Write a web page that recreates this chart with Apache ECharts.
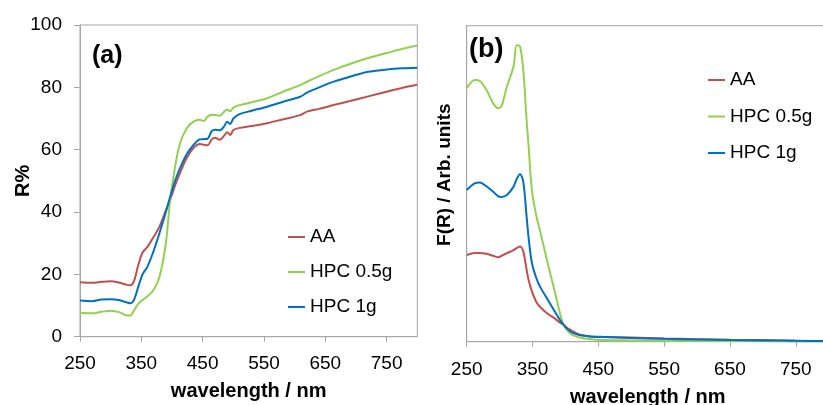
<!DOCTYPE html>
<html>
<head>
<meta charset="utf-8">
<script src="https://cdn.jsdelivr.net/npm/echarts@6/dist/echarts.min.js"></script>
<style>html,body{margin:0;padding:0;background:#fff;}#chart{width:823px;height:405px;}</style>
</head>
<body>
<div id="chart"></div>
<script>
// Panel (a): reflectance R% vs wavelength
var wlA    = [250,270,285,300,315,325,332,338,345,352,360,370,380,390,397,405,413,424,435,445,452,458,465,470,478,485,490,495,500,510,530,555,580,609,620,640,665,690,720,750,775,800];
var aaR    = [17.5,17.3,17.6,17.8,17.3,16.7,16.5,17.8,23,27,28.8,32,35.5,40.5,43.8,48.5,52.5,57.3,60.5,61.8,61.6,61.4,63.3,63.8,63.2,64.5,65.6,64.7,66.3,67,67.6,68.5,69.7,71.1,72.2,73.1,74.4,75.6,77.1,78.6,79.8,80.8];
var hpc05R = [7.7,7.5,8.0,8.3,7.8,6.9,6.8,8.4,10.5,11.8,13,15,19.5,30,43.8,54.5,62,66.9,69,69.6,69.2,70.6,71.2,71.1,70.9,72.2,72.9,72.3,73.5,74.3,75.2,76.5,78.5,80.7,81.8,83.6,85.7,87.5,89.4,91,92.3,93.4];
var hpc1R  = [11.6,11.4,11.9,12.0,11.7,11.1,10.7,11.8,16,20,22.5,27.5,33.5,40,44.9,50,54,58.5,61.5,63.3,63.4,63.5,66,66.4,66.2,67.5,69,68.2,70,71.4,72.5,73.8,75.3,77,78.3,80,81.9,83.4,85,85.7,86.1,86.3];

// Panel (b): Kubelka-Munk F(R), arbitrary units
var wlB    = [250,262,270,280,290,298,303,311,321,326,331,336,341,344,349,356,362,372,382,392,397,402,407,412,417,422,432,442,460,500,550,600,650,700,750,800];
var aaF    = [27.4,28.1,28.1,27.8,27.2,26.7,27.2,28,29,29.6,30.1,28.5,22.8,19.5,16,12.5,10.9,9,7.6,6,5.3,4.5,3.8,3.2,2.6,2.2,1.8,1.6,1.5,1.3,1.0,0.8,0.6,0.5,0.3,0.2];
var hpc05F = [80.2,82.8,82.5,79.7,75.5,73.9,74.6,80.7,87,93.9,93.4,86,70,62,48,39.6,34.6,25.8,17.4,8.8,5.3,3.8,2.7,2,1.6,1.3,0.9,0.7,0.5,0.4,0.3,0.3,0.2,0.2,0.1,0.1];
var hpc1F  = [48,50.1,50.4,49.2,47.5,46,45.8,46.4,49,51.5,53.1,50.6,39.6,33,25,20,17.2,13.7,10.2,6.8,5.5,4.2,3.3,2.7,2.4,2.1,1.8,1.6,1.5,1.2,0.9,0.7,0.5,0.4,0.3,0.2];

var xTicks = [250,350,450,550,650,750];
var seriesNames = ['AA','HPC 0.5g','HPC 1g'];
var colors = ['#C0504D','#92D050','#0070C0'];

function pairs(xs, ys){ return xs.map(function(x,i){ return [x, ys[i]]; }); }

var font = 'Liberation Sans, Arial, sans-serif';
var axisGray = '#A6A6A6';

function xAxisCfg(gridIndex, gap, margin){
  return {
    type:'value', gridIndex:gridIndex, min:250, max:800,
    name:'wavelength / nm', nameLocation:'middle', nameGap:gap, nameMoveOverlap:false,
    nameTextStyle:{fontFamily:font,fontSize:20,fontWeight:'bold',color:'#000'},
    axisLine:{show:true,onZero:false,lineStyle:{color:axisGray,width:1}},
    axisTick:{show:true,inside:false,length:5,customValues:xTicks,lineStyle:{color:axisGray}},
    axisLabel:{show:true,margin:margin,customValues:xTicks,fontFamily:font,fontSize:19,color:'#000'},
    splitLine:{show:false}
  };
}

var chart = echarts.init(document.getElementById('chart'), null, {renderer:'canvas'});
var option = {
  backgroundColor:'#fff',
  animation:false,
  color:colors,
  title:[
    {text:'(a)', left:92, top:44, padding:0, textStyle:{fontFamily:font,fontSize:25,fontWeight:'bold',color:'#000'}},
    {text:'(b)', left:469, top:36, padding:0, textStyle:{fontFamily:font,fontSize:27,fontWeight:'bold',color:'#000'}}
  ],
  legend:[
    {data:seriesNames, orient:'vertical', left:288, top:227.5, padding:0, itemGap:16, itemWidth:17, itemHeight:2, icon:'rect',
     textStyle:{fontFamily:font,fontSize:19,color:'#000'}},
    {data:seriesNames, orient:'vertical', left:708, top:70.5, padding:0, itemGap:17.5, itemWidth:17, itemHeight:2, icon:'rect',
     textStyle:{fontFamily:font,fontSize:19,color:'#000'}}
  ],
  grid:[
    {left:80, top:25, width:337.3, height:311.7, show:true, borderColor:axisGray, borderWidth:1, containLabel:false, outerBoundsMode:'none'},
    {left:466.7, top:25.7, width:362, height:316, show:true, borderColor:axisGray, borderWidth:1, containLabel:false, outerBoundsMode:'none'}
  ],
  xAxis:[ xAxisCfg(0, 45, 18), xAxisCfg(1, 46, 19) ],
  yAxis:[
    {type:'value', gridIndex:0, min:0, max:100, interval:20,
     name:'R%', nameLocation:'middle', nameGap:47, nameMoveOverlap:false,
     nameTextStyle:{fontFamily:font,fontSize:20,fontWeight:'bold',color:'#000'},
     axisLine:{show:true,lineStyle:{color:axisGray}},
     axisTick:{show:true,inside:false,length:6,lineStyle:{color:axisGray}},
     axisLabel:{margin:18,fontFamily:font,fontSize:19,color:'#000'},
     splitLine:{show:false}},
    {type:'value', gridIndex:1, min:0, max:100,
     name:'F(R) / Arb. units', nameLocation:'middle', nameGap:12, nameMoveOverlap:false,
     nameTextStyle:{fontFamily:font,fontSize:19,fontWeight:'bold',color:'#000',padding:[0,0,0,18]},
     axisLine:{show:true,lineStyle:{color:axisGray}},
     axisTick:{show:false}, axisLabel:{show:false}, splitLine:{show:false}}
  ],
  series:[
    {name:'AA', type:'line', xAxisIndex:0, yAxisIndex:0, data:pairs(wlA,aaR), showSymbol:false, symbol:'none', smooth:0.3, lineStyle:{width:2,color:colors[0]}, itemStyle:{color:colors[0]}},
    {name:'HPC 0.5g', type:'line', xAxisIndex:0, yAxisIndex:0, data:pairs(wlA,hpc05R), showSymbol:false, symbol:'none', smooth:0.3, lineStyle:{width:2,color:colors[1]}, itemStyle:{color:colors[1]}},
    {name:'HPC 1g', type:'line', xAxisIndex:0, yAxisIndex:0, data:pairs(wlA,hpc1R), showSymbol:false, symbol:'none', smooth:0.3, lineStyle:{width:2,color:colors[2]}, itemStyle:{color:colors[2]}},
    {name:'AA', type:'line', xAxisIndex:1, yAxisIndex:1, data:pairs(wlB,aaF), showSymbol:false, symbol:'none', smooth:0.3, lineStyle:{width:2,color:colors[0]}, itemStyle:{color:colors[0]}},
    {name:'HPC 0.5g', type:'line', xAxisIndex:1, yAxisIndex:1, data:pairs(wlB,hpc05F), showSymbol:false, symbol:'none', smooth:0.3, lineStyle:{width:2,color:colors[1]}, itemStyle:{color:colors[1]}},
    {name:'HPC 1g', type:'line', xAxisIndex:1, yAxisIndex:1, data:pairs(wlB,hpc1F), showSymbol:false, symbol:'none', smooth:0.3, lineStyle:{width:2,color:colors[2]}, itemStyle:{color:colors[2]}}
  ]
};
chart.setOption(option);
</script>
</body>
</html>
